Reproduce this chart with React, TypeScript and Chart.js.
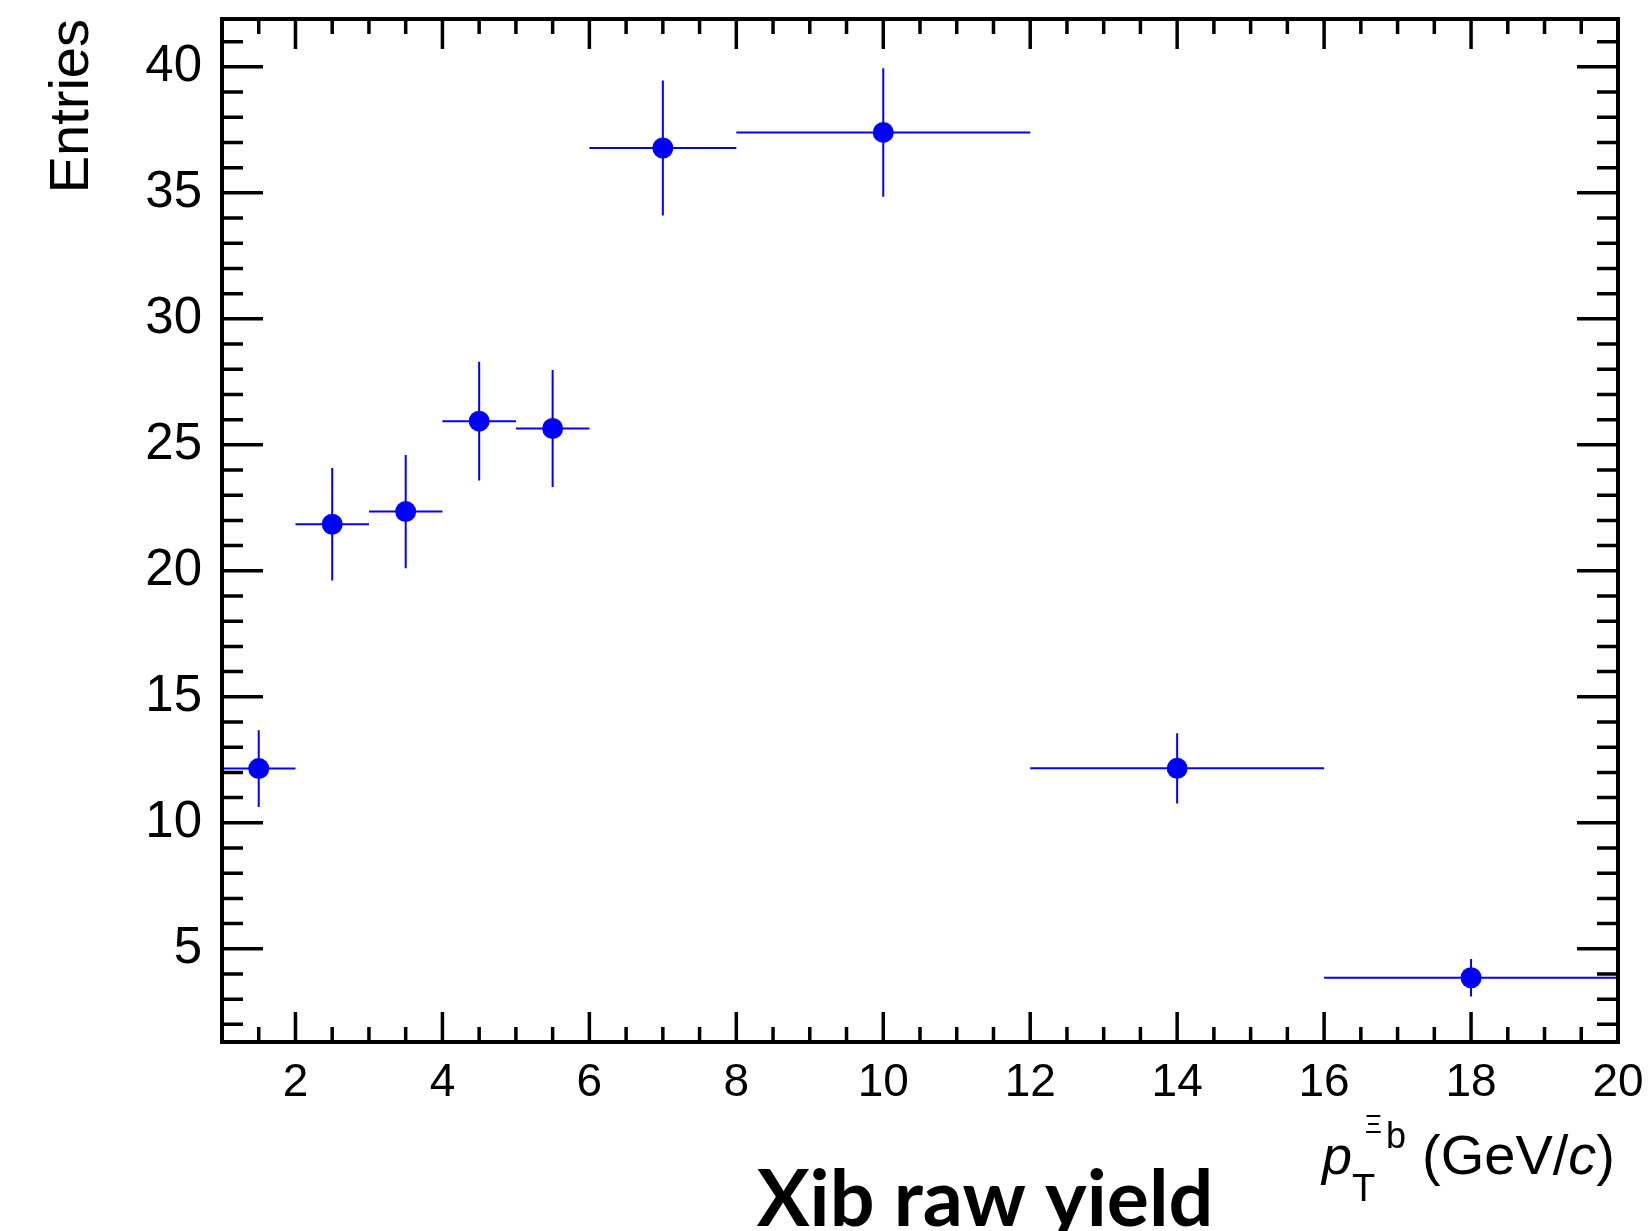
import React, { useEffect, useRef } from 'react';
import { Chart, registerables } from 'chart.js';

Chart.register(...registerables);

// ---- data ----
const binLow = [1, 2, 3, 4, 5, 6, 8, 12, 16];
const binHigh = [2, 3, 4, 5, 6, 8, 12, 16, 20];
const binCenter = [1.5, 2.5, 3.5, 4.5, 5.5, 7, 10, 14, 18];
const rawYield = [12.15, 21.85, 22.35, 25.94, 25.65, 36.78, 37.4, 12.16, 3.85];
const yieldError = [1.52, 2.23, 2.25, 2.36, 2.32, 2.68, 2.55, 1.39, 0.74];

const xTickValues = [2, 4, 6, 8, 10, 12, 14, 16, 18, 20];
const yTickValues = [5, 10, 15, 20, 25, 30, 35, 40];

const X_MIN = 1;
const X_MAX = 20;
const Y_MIN = 1.3;
const Y_MAX = 41.9;

const W = 1650;
const H = 1231;
const FONT = '"Liberation Sans", Arial, Helvetica, sans-serif';

const errorBars = {
  id: 'errorBars',
  beforeDatasetsDraw(chart: any) {
    const { ctx, scales } = chart;
    const x = scales.x;
    const y = scales.y;
    ctx.save();
    ctx.strokeStyle = '#0000ff';
    ctx.lineWidth = 2;
    for (let i = 0; i < rawYield.length; i++) {
      const py = y.getPixelForValue(rawYield[i]);
      const px = x.getPixelForValue(binCenter[i]);
      ctx.beginPath();
      ctx.moveTo(x.getPixelForValue(binLow[i]), py);
      ctx.lineTo(x.getPixelForValue(binHigh[i]), py);
      ctx.moveTo(px, y.getPixelForValue(rawYield[i] - yieldError[i]));
      ctx.lineTo(px, y.getPixelForValue(rawYield[i] + yieldError[i]));
      ctx.stroke();
    }
    ctx.restore();
  },
};

const rootFrame = {
  id: 'rootFrame',
  afterDraw(chart: any) {
    const { ctx, chartArea: a, scales } = chart;
    const x = scales.x;
    const y = scales.y;
    ctx.save();
    ctx.strokeStyle = '#000';
    ctx.lineCap = 'butt';
    ctx.lineWidth = 3.5;
    ctx.beginPath();
    // x ticks every 0.5, major every 2
    for (let k = 3; k < 40; k++) {
      const v = k / 2;
      const px = x.getPixelForValue(v);
      const len = k % 4 === 0 ? 30 : 15;
      ctx.moveTo(px, a.bottom);
      ctx.lineTo(px, a.bottom - len);
      ctx.moveTo(px, a.top);
      ctx.lineTo(px, a.top + len);
    }
    // y ticks every 1, major every 5
    for (let v = 2; v <= 41; v++) {
      const py = y.getPixelForValue(v);
      const len = v % 5 === 0 ? 41 : 21;
      ctx.moveTo(a.left, py);
      ctx.lineTo(a.left + len, py);
      ctx.moveTo(a.right, py);
      ctx.lineTo(a.right - len, py);
    }
    ctx.stroke();
    ctx.lineWidth = 4;
    ctx.lineJoin = 'miter';
    ctx.strokeRect(a.left, a.top, a.right - a.left, a.bottom - a.top);

    // y axis title
    ctx.fillStyle = '#000';
    ctx.save();
    ctx.translate(88, a.top);
    ctx.rotate(-Math.PI / 2);
    ctx.font = `56px ${FONT}`;
    ctx.textAlign = 'right';
    ctx.textBaseline = 'alphabetic';
    ctx.fillText('Entries', 0, 0);
    ctx.restore();

    // x axis title: p_T^{Xi_b} (GeV/c)
    const base = 1174;
    ctx.textAlign = 'left';
    ctx.textBaseline = 'alphabetic';
    const parts: [string, string][] = [
      ['(GeV/', `56px ${FONT}`],
      ['c', `italic 56px ${FONT}`],
      [')', `56px ${FONT}`],
    ];
    let tailW = 0;
    for (const [t, f] of parts) {
      ctx.font = f;
      tailW += ctx.measureText(t).width;
    }
    const tailStart = a.right - 3 - tailW;
    let cx = tailStart;
    for (const [t, f] of parts) {
      ctx.font = f;
      ctx.fillText(t, cx, base);
      cx += ctx.measureText(t).width;
    }
    ctx.font = `italic 54px ${FONT}`;
    ctx.fillText('p', tailStart - 100, base);
    ctx.font = `38px ${FONT}`;
    ctx.fillText('T', tailStart - 70, base + 27);
    ctx.font = `26px ${FONT}`;
    ctx.fillText('\u039E', tailStart - 57, base - 41);
    ctx.font = `36px ${FONT}`;
    ctx.fillText('b', tailStart - 36, base - 26);

    // main title
    ctx.font = `bold 79px Lato, "Open Sans", sans-serif`;
    ctx.textAlign = 'center';
    ctx.fillText('Xib raw yield', 985, 1226);
    ctx.restore();
  },
};

export default function App() {
  const ref = useRef<HTMLCanvasElement>(null);
  useEffect(() => {
    if (!ref.current) return;
    const chart = new Chart(ref.current, {
      type: 'scatter',
      data: {
        datasets: [
          {
            label: 'Xib raw yield',
            data: binCenter.map((v, i) => ({ x: v, y: rawYield[i] })),
            pointRadius: 10.5,
            pointHoverRadius: 10.5,
            pointBackgroundColor: '#0000ff',
            pointBorderColor: '#0000ff',
            pointBorderWidth: 0,
            showLine: false,
          },
        ],
      },
      options: {
        animation: false,
        responsive: false,
        devicePixelRatio: 1,
        layout: { padding: { left: 0, right: 32, top: 19, bottom: 0 } },
        plugins: {
          legend: { display: false },
          tooltip: { enabled: false },
          title: { display: false },
        },
        scales: {
          x: {
            type: 'linear',
            position: 'bottom',
            min: X_MIN,
            max: X_MAX,
            grid: { display: false, drawTicks: false },
            border: { display: false },
            ticks: {
              color: '#000',
              font: { family: FONT, size: 46 },
              padding: 14,
              maxRotation: 0,
              autoSkip: false,
            },
            afterBuildTicks: (s: any) => {
              s.ticks = xTickValues.map((v) => ({ value: v }));
            },
            afterFit: (s: any) => {
              s.height = H - 1042;
              s.paddingLeft = 0;
              s.paddingRight = 0;
              s.paddingTop = 0;
              s.paddingBottom = 0;
            },
          },
          y: {
            type: 'linear',
            position: 'left',
            min: Y_MIN,
            max: Y_MAX,
            grid: { display: false, drawTicks: false },
            border: { display: false },
            ticks: {
              color: '#000',
              font: { family: FONT, size: 51 },
              padding: 20,
              autoSkip: false,
            },
            afterBuildTicks: (s: any) => {
              s.ticks = yTickValues.map((v) => ({ value: v }));
            },
            afterFit: (s: any) => {
              s.width = 222;
              s.paddingLeft = 0;
              s.paddingRight = 0;
              s.paddingTop = 0;
              s.paddingBottom = 0;
            },
          },
        },
      },
      plugins: [errorBars, rootFrame],
    });
    return () => chart.destroy();
  }, []);
  return (
    <div style={{ position: 'absolute', left: 0, top: 0, width: W, height: H, background: '#fff' }}>
      <canvas ref={ref} width={W} height={H} style={{ display: 'block', width: W, height: H }} />
    </div>
  );
}
